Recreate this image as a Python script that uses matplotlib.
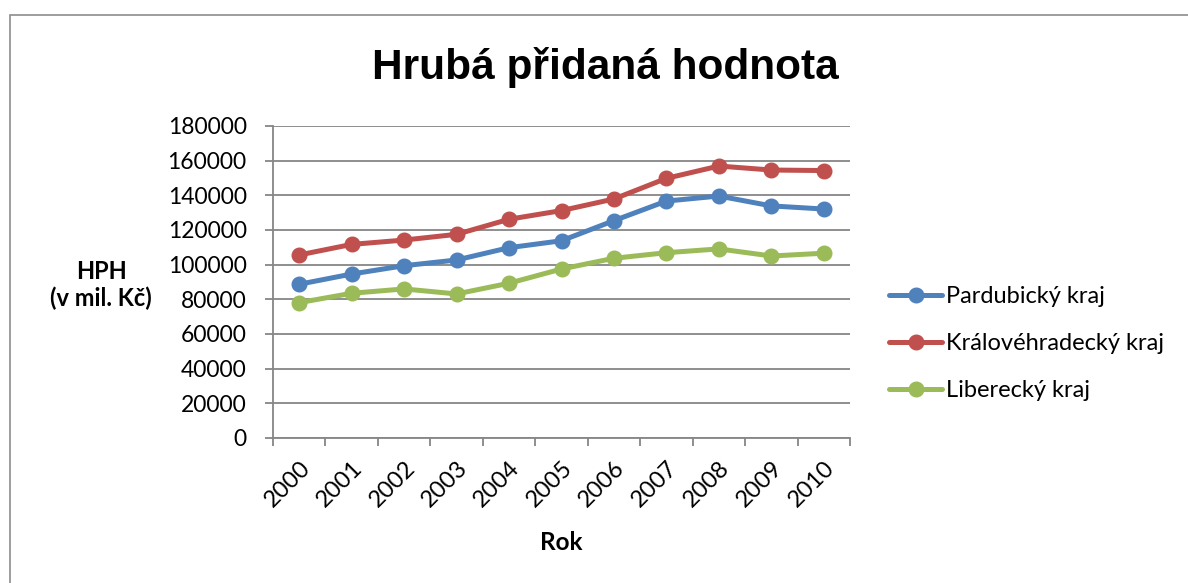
import matplotlib.pyplot as plt
from matplotlib.patches import Rectangle
import numpy as np

# Data
roky = ['2000', '2001', '2002', '2003', '2004', '2005', '2006', '2007', '2008', '2009', '2010']
pardubicky = [88700, 94600, 99400, 102700, 109800, 113800, 125400, 136700, 139600, 133900, 132100]
kralovehradecky = [105600, 111700, 114200, 117500, 126200, 131200, 137900, 149800, 156900, 154600, 154300]
liberecky = [78100, 83500, 86000, 83100, 89300, 97500, 103700, 106900, 109100, 105000, 106600]
nazvy = ['Pardubický kraj', 'Královéhradecký kraj', 'Liberecký kraj']
barvy = ['#4F81BD', '#C0504D', '#9BBB59']

fig = plt.figure(figsize=(11.88, 5.83), dpi=100)
ax = fig.add_axes([273 / 1188, 1 - 438 / 583, (850 - 273) / 1188, (438 - 126) / 583])

# rámeček grafu
fig.patches.append(Rectangle((10 / 1188, -0.1), 1.2, 1.1 - 15 / 583, transform=fig.transFigure,
                             fill=False, edgecolor='#8c8c8c', linewidth=1.2))

x = np.arange(len(roky))
for serie, nazev, barva in zip([pardubicky, kralovehradecky, liberecky], nazvy, barvy):
    ax.plot(x, serie, color=barva, linewidth=3.6, marker='o', markersize=10.5,
            label=nazev, solid_capstyle='round')

ax.set_xlim(-0.5, len(roky) - 0.5)
ax.set_ylim(0, 180000)
ax.set_yticks(np.arange(0, 180001, 20000))
ax.set_yticklabels([str(v) for v in range(0, 180001, 20000)], fontsize=16.5, family='Lato')
ax.yaxis.grid(True, color='#868686', linewidth=1.3)
ax.set_axisbelow(True)

ax.set_xticks(x)
ax.set_xticklabels(roky, rotation=45, ha='right', rotation_mode='anchor', fontsize=17, family='Lato')
ax.set_xticks(np.arange(-0.5, len(roky)), minor=True)
ax.tick_params(axis='x', which='major', length=0, pad=14)
ax.tick_params(axis='x', which='minor', length=6, color='#868686', width=1.3)
ax.tick_params(axis='y', length=6, color='#868686', width=1.3, pad=13)

for s in ['top', 'right']:
    ax.spines[s].set_visible(False)
for s in ['left', 'bottom']:
    ax.spines[s].set_color('#868686')
    ax.spines[s].set_linewidth(1.3)

fig.text(605 / 1188, 1 - 68 / 583, 'Hrubá přidaná hodnota', ha='center', va='center',
         fontsize=30.5, fontweight='bold', family='Liberation Sans')
fig.text(101 / 1188, 1 - 285 / 583, 'HPH\n(v mil. Kč)', ha='center', va='center',
         fontsize=17, fontweight='bold', family='Lato', linespacing=1.2)
fig.text(561 / 1188, 1 - 543 / 583, 'Rok', ha='center', va='center',
         fontsize=17.5, fontweight='bold', family='Lato')

leg = fig.legend(loc='upper left', bbox_to_anchor=(868 / 1188, 1 - 265 / 583), frameon=False,
                 prop={'family': 'Lato', 'size': 17}, handlelength=2.25, handletextpad=0.15,
                 labelspacing=1.1)

fig.savefig('out.png', dpi=100)
